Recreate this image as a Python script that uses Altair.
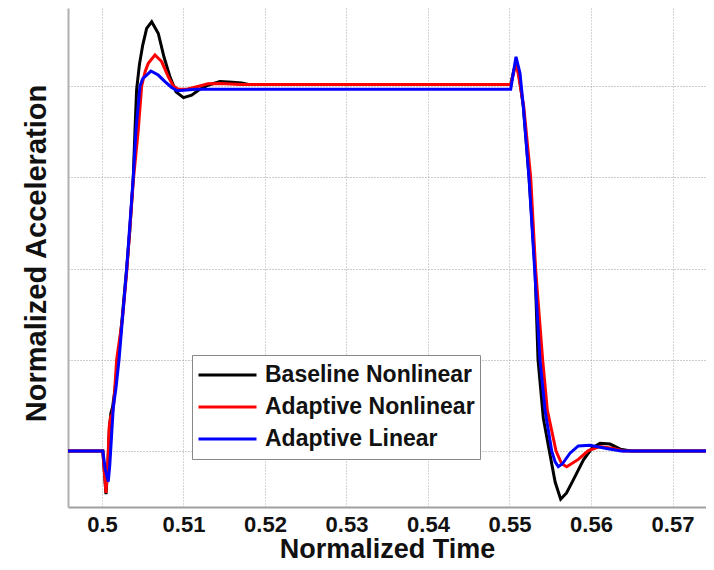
import altair as alt
import pandas as pd

series_names = ["Baseline Nonlinear", "Adaptive Nonlinear", "Adaptive Linear"]
series_colors = ["#000000", "#ff0000", "#0000ff"]

x_ticks = [0.5, 0.51, 0.52, 0.53, 0.54, 0.55, 0.56, 0.57]
y_grid = [0, 0.25, 0.5, 0.75, 1.0]

base_t = [0.4958, 0.5001, 0.50030, 0.50049, 0.50070, 0.50090, 0.50110, 0.50130, 0.50160,
          0.50200, 0.50250, 0.50303, 0.50340, 0.50384, 0.50405, 0.50425, 0.50460, 0.50500,
          0.50548, 0.50610, 0.50691, 0.50760, 0.50834, 0.50908, 0.51000, 0.51100, 0.51200,
          0.51300, 0.51448, 0.51600, 0.51714, 0.51800, 0.55015, 0.55050, 0.55080, 0.55110,
          0.55170, 0.55240, 0.55313, 0.55350, 0.55415, 0.55489, 0.55560, 0.55628, 0.55700,
          0.55783, 0.55906, 0.56010, 0.56110, 0.56233, 0.56360, 0.56490, 0.57420]
base_v = [0, 0, -0.06, -0.118, -0.05, 0.06, 0.105, 0.12, 0.17,
          0.255, 0.37, 0.50, 0.60, 0.75, 0.879, 0.99, 1.06, 1.112,
          1.158, 1.176, 1.144, 1.080, 1.025, 0.984, 0.968, 0.975, 0.991,
          1.002, 1.012, 1.010, 1.008, 1.004, 1.004, 1.04, 1.065, 1.04,
          0.943, 0.75, 0.50, 0.25, 0.09, 0.0, -0.085, -0.132, -0.115,
          -0.079, -0.025, 0.007, 0.021, 0.019, 0.005, 0.0, 0.0]

adnl_t = [0.4958, 0.5001, 0.50030, 0.50049, 0.50070, 0.50090, 0.50107, 0.50125, 0.50145,
          0.50180, 0.50250, 0.50303, 0.50384, 0.50445, 0.50487, 0.50530, 0.50568, 0.50650,
          0.50732, 0.50814, 0.50875, 0.50937, 0.51040, 0.51200, 0.51300, 0.51450, 0.51700,
          0.55015, 0.55050, 0.55080, 0.55110, 0.55175, 0.55260, 0.55320, 0.55407, 0.55464,
          0.55571, 0.55640, 0.55702, 0.55844, 0.55967, 0.56110, 0.56274, 0.56400, 0.57420]
adnl_v = [0, 0, -0.06, -0.115, -0.04, 0.07, 0.094, 0.10, 0.13,
          0.25, 0.36, 0.49, 0.74, 0.879, 1.0, 1.04, 1.062, 1.085,
          1.067, 1.025, 1.0, 0.991, 0.991, 1.0, 1.006, 1.007, 1.004,
          1.004, 1.035, 1.062, 1.03, 0.943, 0.75, 0.50, 0.25, 0.112,
          0.0, -0.035, -0.043, -0.023, 0.001, 0.012, 0.007, 0.0, 0.0]

adl_t = [0.4958, 0.5001, 0.50040, 0.50077, 0.50095, 0.50107, 0.50139, 0.50170, 0.50209,
         0.50250, 0.50303, 0.50384, 0.50417, 0.50466, 0.50500, 0.50548, 0.50600, 0.50690,
         0.50773, 0.50855, 0.50924, 0.51040, 0.51150, 0.55015, 0.55050, 0.55080, 0.55129,
         0.55170, 0.55239, 0.55308, 0.55374, 0.55436, 0.55518, 0.55560, 0.55599, 0.55650,
         0.55742, 0.55844, 0.55988, 0.56190, 0.56370, 0.57420]
adl_v = [0, 0, -0.05, -0.084, -0.04, 0.003, 0.121, 0.17, 0.25,
         0.36, 0.50, 0.75, 0.879, 1.0, 1.02, 1.030, 1.041, 1.030,
         1.012, 0.996, 0.987, 0.989, 0.991, 0.991, 1.04, 1.080, 1.035,
         0.943, 0.75, 0.50, 0.25, 0.112, 0.0, -0.03, -0.043, -0.035,
         -0.006, 0.014, 0.016, 0.007, 0.0, 0.0]

frames = []
for name, ts, vs in zip(series_names, [base_t, adnl_t, adl_t], [base_v, adnl_v, adl_v]):
    frames.append(pd.DataFrame({"t": ts, "v": vs, "series": name}))
data = pd.concat(frames, ignore_index=True)

FONT = "Liberation Sans"

x_enc = alt.X(
    "t:Q",
    scale=alt.Scale(domain=[0.49583, 0.57411], nice=False, zero=False),
    axis=alt.Axis(
        values=x_ticks, format="~g", title="Normalized Time",
        labelFont=FONT, labelFontSize=22, labelFontWeight="bold", labelColor="#111",
        labelPadding=7, ticks=False, tickSize=0,
        titleFont=FONT, titleFontSize=27, titleFontWeight="bold", titleColor="#111",
        titleBaseline="alphabetic", titleY=50,
        grid=True, gridColor="#a8a8a8", gridDash=[1, 2], gridWidth=1,
        domainColor="#a0a0a0", domainWidth=2,
    ),
)
y_enc = alt.Y(
    "v:Q",
    scale=alt.Scale(domain=[-0.1534, 1.2137], nice=False, zero=False),
    axis=alt.Axis(
        values=y_grid, labels=False, ticks=False, tickSize=0,
        title="Normalized Acceleration",
        titleFont=FONT, titleFontSize=29, titleFontWeight="bold", titleColor="#111",
        titleAngle=270, titleBaseline="alphabetic", titleAlign="center",
        titleX=-23, titleY=245,
        grid=True, gridColor="#999999", gridDash=[1, 2], gridWidth=1,
        domainColor="#b0b0b0", domainWidth=2,
    ),
)
color_enc = alt.Color(
    "series:N",
    scale=alt.Scale(domain=series_names, range=series_colors),
    legend=alt.Legend(
        orient="none", legendX=124, legendY=347, title=None,
        symbolType="stroke", symbolSize=3364, symbolStrokeWidth=3, clipHeight=30,
        labelFont=FONT, labelFontSize=23, labelFontWeight="bold", labelColor="#111",
        labelOffset=7, labelLimit=400, padding=5, rowPadding=2,
        fillColor="white", strokeColor="#888888",
    ),
)

layers = []
for name in series_names:
    layers.append(
        alt.Chart(data)
        .transform_filter(alt.datum.series == name)
        .mark_line(strokeWidth=3, clip=True)
        .encode(x=x_enc, y=y_enc, color=color_enc)
    )

chart = (
    alt.layer(*layers)
    .properties(
        width=638, height=499,
        autosize=alt.AutoSizeParams(type="none"),
        padding={"left": 60, "top": 0, "right": 0, "bottom": 53},
    )
    .configure_view(strokeWidth=0)
)

chart.save("out.html", embed_options={"renderer": "svg", "actions": False})
